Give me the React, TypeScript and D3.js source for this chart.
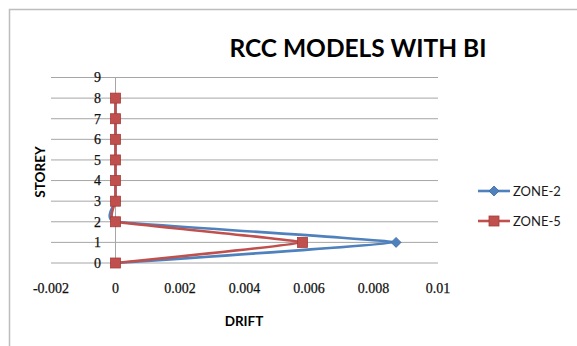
import React from "react";
import * as d3 from "d3";

// Storey levels and inter-storey drift for the two seismic zones
const storeys = [0, 1, 2, 3, 4, 5, 6, 7, 8];
const zone2Drift = [0, 0.0087, 0, 0, 0, 0, 0, 0, 0];
const zone5Drift = [0, 0.0058, 0, 0, 0, 0, 0, 0, 0];
const xTicks = [-0.002, 0, 0.002, 0.004, 0.006, 0.008, 0.01];
const yTicks = [0, 1, 2, 3, 4, 5, 6, 7, 8, 9];

const W = 577;
const H = 346;

const x = d3.scaleLinear().domain([-0.002, 0.01]).range([51, 438]);
const y = d3.scaleLinear().domain([0, 9]).range([263, 77.5]);

const series = [
  { name: "ZONE-2", values: zone2Drift, color: "#4f81bd", stroke: "#3a6aa5", marker: "diamond" },
  { name: "ZONE-5", values: zone5Drift, color: "#c0504d", stroke: "#a83c39", marker: "square" },
];

// lightly smoothed lines
const line = d3
  .line<[number, number]>()
  .x((d) => x(d[0]))
  .y((d) => y(d[1]))
  .curve(d3.curveCardinal.tension(0.72));

function Marker({ kind, cx, cy, color, stroke }: any) {
  const s = 5;
  if (kind === "diamond") {
    return (
      <path
        d={`M${cx},${cy - s}L${cx + s},${cy}L${cx},${cy + s}L${cx - s},${cy}Z`}
        fill={color}
        stroke={stroke}
        strokeWidth={0.8}
      />
    );
  }
  return <rect x={cx - s} y={cy - s} width={2 * s} height={2 * s} fill={color} stroke={stroke} strokeWidth={0.8} />;
}

const tickFmt = (v: number) => String(+v.toFixed(3));

export default function App() {
  return (
    <svg
      width={W}
      height={H}
      style={{ position: "absolute", left: 0, top: 0, background: "#fff" }}
      fontFamily="Lato, 'Open Sans', sans-serif"
    >
      {/* chart frame */}
      <path d={`M9.5,${H + 2}V9.5H${W + 2}`} fill="none" stroke="#bdbdbd" strokeWidth={1.5} />

      {/* title */}
      <text x={358} y={57} textAnchor="middle" fontSize={24.5} fontWeight={700} fill="#000">
        RCC MODELS WITH BI
      </text>

      {/* horizontal gridlines */}
      {yTicks.map((t) => (
        <line key={t} x1={x(-0.002)} x2={x(0.01)} y1={y(t)} y2={y(t)} stroke="#a6a6a6" strokeWidth={1} />
      ))}
      {/* vertical axis at zero drift */}
      <line x1={x(0)} x2={x(0)} y1={y(0)} y2={y(9)} stroke="#a6a6a6" strokeWidth={1} />

      {/* y tick labels */}
      {yTicks.map((t) => (
        <text
          key={t}
          x={101}
          y={y(t)}
          dy="0.35em"
          textAnchor="end"
          fontSize={14}
          fontFamily="'Liberation Serif', serif"
          fill="#111"
          stroke="#111"
          strokeWidth={0.25}
        >
          {t}
        </text>
      ))}

      {/* x tick labels */}
      {xTicks.map((t) => (
        <text
          key={t}
          x={x(t)}
          y={293}
          textAnchor="middle"
          fontSize={14}
          fontFamily="'Liberation Serif', serif"
          fill="#111"
          stroke="#111"
          strokeWidth={0.25}
        >
          {tickFmt(t)}
        </text>
      ))}

      {/* axis titles */}
      <text x={244} y={326} textAnchor="middle" fontSize={13.5} fontWeight={700} fill="#000">
        DRIFT
      </text>
      <text transform={`translate(45,172) rotate(-90)`} textAnchor="middle" fontSize={13.5} fontWeight={700} fill="#000">
        STOREY
      </text>

      {/* series */}
      {series.map((s) => {
        const pts = storeys.map((st, i) => [s.values[i], st] as [number, number]);
        return (
          <g key={s.name}>
            <path d={line(pts) || ""} fill="none" stroke={s.color} strokeWidth={2.6} />
            {pts.map((p, i) => (
              <Marker key={i} kind={s.marker} cx={x(p[0])} cy={y(p[1])} color={s.color} stroke={s.stroke} />
            ))}
          </g>
        );
      })}

      {/* legend */}
      {series.map((s, i) => {
        const ly = 191 + i * 30;
        return (
          <g key={s.name}>
            <line x1={478} x2={510} y1={ly} y2={ly} stroke={s.color} strokeWidth={2.6} />
            <Marker kind={s.marker} cx={494} cy={ly} color={s.color} stroke={s.stroke} />
            <text x={513} y={ly} dy="0.35em" fontSize={13} fill="#1a1a1a">
              {s.name}
            </text>
          </g>
        );
      })}
    </svg>
  );
}
